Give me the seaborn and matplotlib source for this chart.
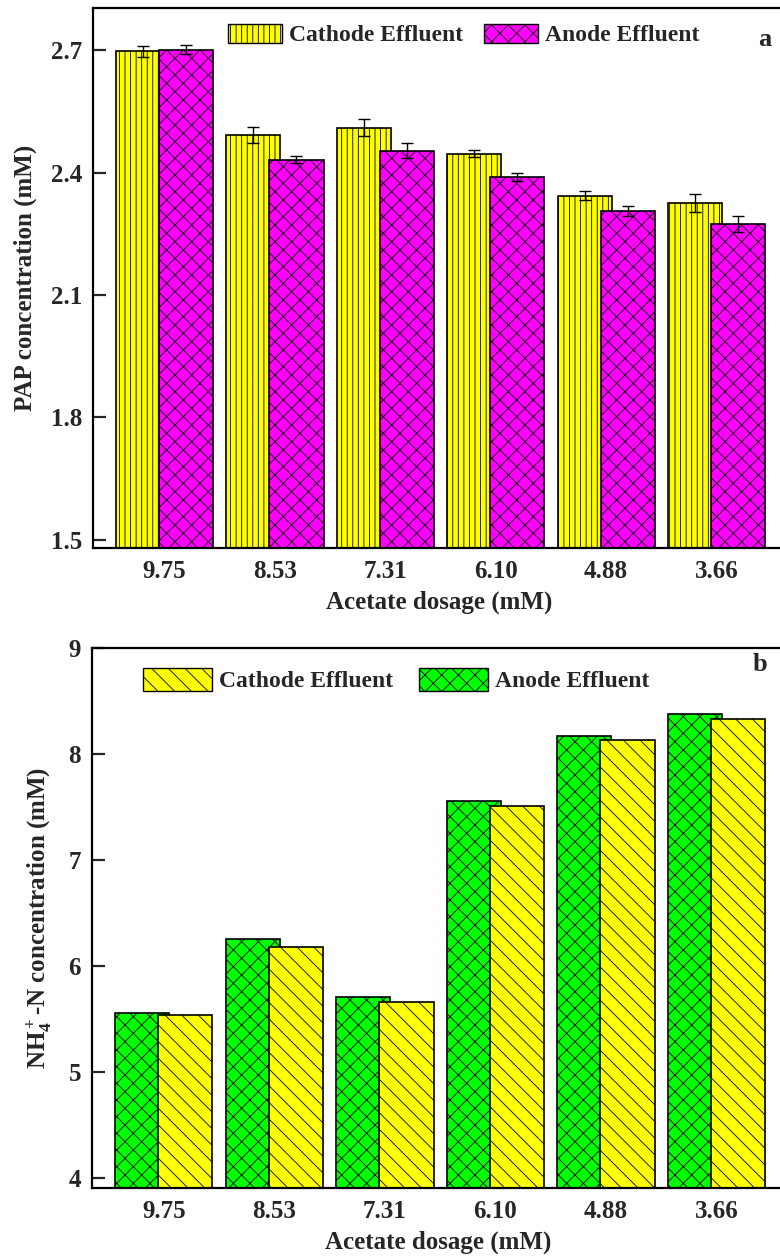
import numpy as np
import pandas as pd
import matplotlib
matplotlib.use("Agg")
import matplotlib.pyplot as plt
import matplotlib.patches as mpatches
import seaborn as sns

# ---------------- data ----------------
dosage = ["9.75", "8.53", "7.31", "6.10", "4.88", "3.66"]
series = ["Cathode Effluent", "Anode Effluent"]

pap_cathode = [2.698, 2.492, 2.510, 2.447, 2.344, 2.327]
pap_anode = [2.702, 2.432, 2.454, 2.389, 2.307, 2.275]
pap_cathode_err = [0.014, 0.020, 0.021, 0.009, 0.011, 0.022]
pap_anode_err = [0.011, 0.009, 0.019, 0.010, 0.012, 0.020]

nh4_anode = [5.56, 6.25, 5.71, 7.56, 8.17, 8.38]
nh4_cathode = [5.54, 6.18, 5.66, 7.51, 8.13, 8.33]

pap_ticks = [1.5, 1.8, 2.1, 2.4, 2.7]
nh4_ticks = [4, 5, 6, 7, 8, 9]

# ---------------- style ----------------
sns.set_theme(style="white")
plt.rcParams["font.family"] = ["Liberation Serif", "DejaVu Serif"]
plt.rcParams["font.weight"] = "bold"
plt.rcParams["axes.labelweight"] = "bold"
plt.rcParams["mathtext.fontset"] = "custom"
plt.rcParams["mathtext.rm"] = "Liberation Serif:bold"
plt.rcParams["mathtext.it"] = "Liberation Serif:bold"
plt.rcParams["mathtext.bf"] = "Liberation Serif:bold"
plt.rcParams["hatch.color"] = "black"
plt.rcParams["hatch.linewidth"] = 0.6

YELLOW = "#FFFF00"
MAGENTA = "#FF00FF"
GREEN = "#00FF00"

fig = plt.figure(figsize=(7.8, 12.6), dpi=100)
W, H = 780.0, 1260.0
ax_a = fig.add_axes([93 / W, 1 - 548 / H, 692 / W, 540 / H])
ax_b = fig.add_axes([92 / W, 1 - 1188 / H, 693 / W, 540 / H])

BAR_W = 0.49


def widen(ax):
    for cont in ax.containers:
        for p in cont.patches:
            c = p.get_x() + p.get_width() / 2
            p.set_width(BAR_W)
            p.set_x(c - BAR_W / 2)


# ---------------- panel a ----------------
df_a = pd.DataFrame({
    "dosage": dosage * 2,
    "series": [series[0]] * len(dosage) + [series[1]] * len(dosage),
    "value": pap_cathode + pap_anode,
})
sns.barplot(data=df_a, x="dosage", y="value", hue="series", order=dosage,
            hue_order=series, palette={series[0]: YELLOW, series[1]: MAGENTA},
            width=0.78, edgecolor="black", linewidth=1.2, saturation=1,
            errorbar=None, legend=False, ax=ax_a)
hatches_a = ["|||", "xx"]
errs_a = [pap_cathode_err, pap_anode_err]
vals_a = [pap_cathode, pap_anode]
for cont, h in zip(ax_a.containers, hatches_a):
    for p in cont.patches:
        p.set_hatch(h)
widen(ax_a)
for cont, v, e in zip(ax_a.containers, vals_a, errs_a):
    xs = [p.get_x() + p.get_width() / 2 for p in cont.patches]
    ax_a.errorbar(xs, v, yerr=e, fmt="none", ecolor="black", elinewidth=1.0,
                  capsize=4, capthick=1.0, zorder=5)

ax_a.set_ylim(1.48, 2.804)
ax_a.set_xlim(-0.648, 5.62)
ax_a.set_yticks(pap_ticks)
ax_a.set_yticklabels([f"{t:.1f}" for t in pap_ticks])
ax_a.set_ylabel("PAP concentration (mM)", fontsize=18, labelpad=10)
ax_a.set_xlabel("Acetate dosage (mM)", fontsize=18, labelpad=5)

leg_a = [mpatches.Patch(facecolor=YELLOW, edgecolor="black", hatch="|||", label=series[0]),
         mpatches.Patch(facecolor=MAGENTA, edgecolor="black", hatch="xx", label=series[1])]
ax_a.legend(handles=leg_a, loc="center left", bbox_to_anchor=(0.195, 0.95), ncol=2,
            frameon=False, fontsize=17, borderpad=0, handlelength=2.3, handleheight=0.85,
            handletextpad=0.3, columnspacing=0.85, borderaxespad=0)
ax_a.text(0.971, 0.942, "a", transform=ax_a.transAxes, fontsize=19, fontweight="bold",
          ha="center", va="center")

# ---------------- panel b ----------------
series_b = ["Anode Effluent", "Cathode Effluent"]
df_b = pd.DataFrame({
    "dosage": dosage * 2,
    "series": [series_b[0]] * len(dosage) + [series_b[1]] * len(dosage),
    "value": nh4_anode + nh4_cathode,
})
sns.barplot(data=df_b, x="dosage", y="value", hue="series", order=dosage,
            hue_order=series_b, palette={series_b[0]: GREEN, series_b[1]: YELLOW},
            width=0.78, edgecolor="black", linewidth=1.2, saturation=1,
            errorbar=None, legend=False, ax=ax_b)
hatches_b = ["xx", "\\\\"]
for cont, h in zip(ax_b.containers, hatches_b):
    for p in cont.patches:
        p.set_hatch(h)
widen(ax_b)

ax_b.set_ylim(3.905, 9.0)
ax_b.set_xlim(-0.65, 5.62)
ax_b.set_yticks(nh4_ticks)
ax_b.set_yticklabels([str(t) for t in nh4_ticks])
ax_b.set_ylabel("NH$_4^+$-N concentration (mM)", fontsize=18, labelpad=10)
ax_b.set_xlabel("Acetate dosage (mM)", fontsize=18, labelpad=5)

leg_b = [mpatches.Patch(facecolor=YELLOW, edgecolor="black", hatch="\\\\", label="Cathode Effluent"),
         mpatches.Patch(facecolor=GREEN, edgecolor="black", hatch="xx", label="Anode Effluent")]
ax_b.legend(handles=leg_b, loc="center left", bbox_to_anchor=(0.074, 0.941), ncol=2,
            frameon=False, fontsize=17, borderpad=0, handlelength=2.9, handleheight=1.15,
            handletextpad=0.32, columnspacing=1.1, borderaxespad=0)
ax_b.text(0.964, 0.969, "b", transform=ax_b.transAxes, fontsize=19, fontweight="bold",
          ha="center", va="center")

for ax in (ax_a, ax_b):
    for s in ax.spines.values():
        s.set_visible(True)
        s.set_color("black")
        s.set_linewidth(1.6)
    ax.tick_params(axis="y", direction="in", length=9, width=1.6, pad=8,
                   labelsize=18, left=True)
    ax.tick_params(axis="x", length=0, pad=9, labelsize=18)
    for lab in ax.get_xticklabels() + ax.get_yticklabels():
        lab.set_fontweight("bold")

fig.savefig("out.png", dpi=100)
